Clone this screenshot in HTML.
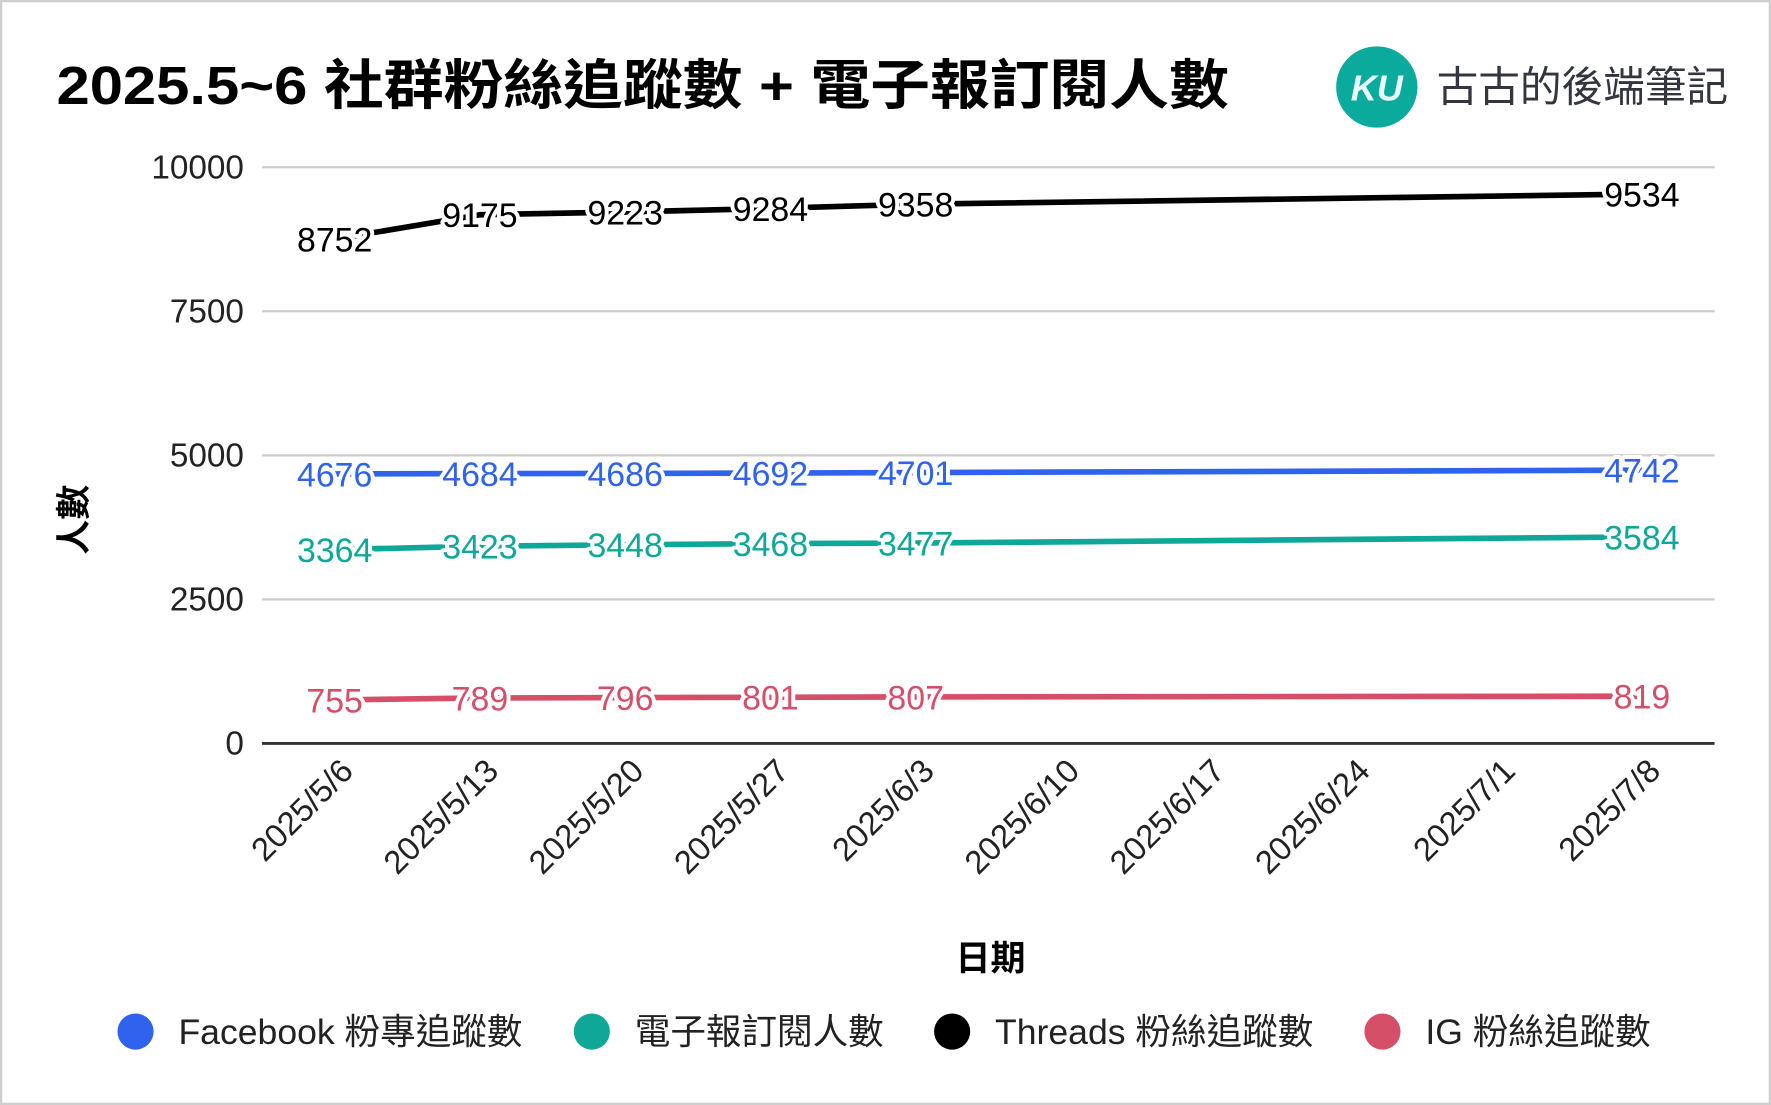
<!DOCTYPE html>
<html><head><meta charset="utf-8"><style>
html,body{margin:0;padding:0;background:#fff;}
svg{display:block;font-family:"Liberation Sans","Noto Sans CJK TC",sans-serif;}
</style></head><body>
<svg id="chart" width="1771" height="1105" viewBox="0 0 1568 978" preserveAspectRatio="none" xmlns="http://www.w3.org/2000/svg">
<rect x="1" y="1" width="1566" height="976" fill="#fff" stroke="#cfcfcf" stroke-width="2"/>
<text x="50" y="92" font-size="48" font-weight="bold" fill="#000" textLength="1038" lengthAdjust="spacingAndGlyphs">2025.5~6 社群粉絲追蹤數 + 電子報訂閱人數</text>
<g>
<circle cx="1219" cy="77" r="36" fill="#0aaa9c"/>
<text x="1219" y="89" font-size="32" font-weight="bold" fill="#e8fbfa" text-anchor="middle" font-style="italic">KU</text>
</g>
<text x="1272" y="90" font-size="37" fill="#33363e" textLength="258" lengthAdjust="spacingAndGlyphs">古古的後端筆記</text>
<g id="grid"></g>
<g id="series"></g>
<g id="xlabels"></g>
<text x="0" y="0" transform="translate(76,460) rotate(-90)" font-size="31" font-weight="bold" text-anchor="middle">人數</text>
<text x="877" y="859" font-size="31" font-weight="bold" text-anchor="middle">日期</text>
<g id="legend"></g>
</svg>
<script>
const categories=["2025/5/6","2025/5/13","2025/5/20","2025/5/27","2025/6/3","2025/6/10","2025/6/17","2025/6/24","2025/7/1","2025/7/8"];
const facebook=[4676,4684,4686,4692,4701,null,null,null,null,4742];
const newsletter=[3364,3423,3448,3468,3477,null,null,null,null,3584];
const threads=[8752,9175,9223,9284,9358,null,null,null,null,9534];
const ig=[755,789,796,801,807,null,null,null,null,819];
const yTicks=[0,2500,5000,7500,10000];
const seriesNames=["Facebook 粉專追蹤數","電子報訂閱人數","Threads 粉絲追蹤數","IG 粉絲追蹤數"];
const NS="http://www.w3.org/2000/svg";
const X0=232,X1=1518,Y0=658,Y1=148;
function xs(i){return X0+(X1-X0)/categories.length*(i+0.5);}
function ys(v){return Y0-(v/10000)*(Y0-Y1);}
function mk(tag,attrs,parent){const e=document.createElementNS(NS,tag);for(const k in attrs)e.setAttribute(k,attrs[k]);parent.appendChild(e);return e;}
const grid=document.getElementById('grid');
yTicks.forEach(t=>{
  const l=mk('line',{x1:X0,x2:X1,y1:ys(t),y2:ys(t),stroke:t===0?'#333':'#cccccc','stroke-width':t===0?2.5:2},grid);
  
  
  const tx=mk('text',{x:216,y:ys(t)+10,'font-size':29.5,'text-anchor':'end',fill:'#222'},grid);
  tx.textContent=t;
  
  
});
const xl=document.getElementById('xlabels');
categories.forEach((c,i)=>{
  const t=mk('text',{transform:`translate(${xs(i)+18},${684}) rotate(-45)`,'font-size':29,'text-anchor':'end',fill:'#222'},xl);
  t.textContent=c;
  
  
});
const allSeries=[[facebook,'#2f63ee'],[newsletter,'#0fa898'],[threads,'#000000'],[ig,'#d64f69']];
const sg=document.getElementById('series');
allSeries.forEach(([vals,col],si)=>{
  const g=mk('g',{},sg);
  
  
  const pts=[];vals.forEach((v,i)=>{if(v!==null)pts.push([xs(i),ys(v)]);});
  const p=mk('polyline',{points:pts.map(p=>p.join(',')).join(' '),fill:'none',stroke:col,'stroke-width':5,'stroke-linejoin':'round'},g);
  
  
  vals.forEach((v,i)=>{if(v===null)return;
    const t=mk('text',{x:xs(i),y:ys(v)+11,'font-size':30,'text-anchor':'middle',fill:col,stroke:'#fff','stroke-width':7,'paint-order':'stroke','stroke-linejoin':'round'},g);
    t.textContent=v;
    
    
  });
});
const lg=document.getElementById('legend');
const lx=[120,524,843,1224];
seriesNames.forEach((n,i)=>{
  const g=mk('g',{},lg);
  
  
  mk('circle',{cx:lx[i],cy:913,r:16,fill:allSeries[i][1]},g);
  const t=mk('text',{x:lx[i]+38,y:924,'font-size':31.5,fill:'#222'},g);
  t.textContent=n;
});
</script>
</body></html>
